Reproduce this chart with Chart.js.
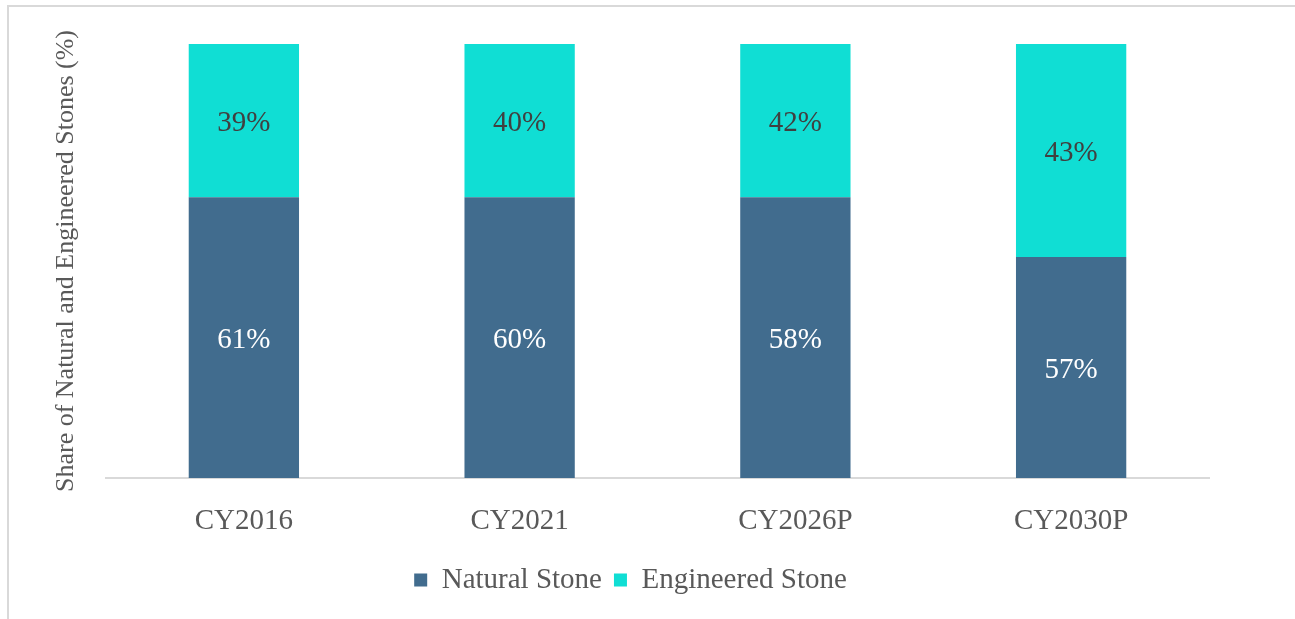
<!DOCTYPE html>
<html>
<head>
<meta charset="utf-8">
<script src="https://cdn.jsdelivr.net/npm/chart.js@4.4.1/dist/chart.umd.min.js"></script>
<style>
    html, body { margin: 0; padding: 0; background: #fff; overflow: hidden; }
    #frame {
        position: absolute; left: 7px; top: 5px; width: 1400px; height: 700px;
        border-top: 2px solid #d9d9d9; border-left: 2px solid #d9d9d9;
    }
    #wrap { position: absolute; left: 0; top: 0; width: 1295px; height: 619px; }
</style>
</head>
<body>
<div id="frame"></div>
<div id="wrap"><canvas id="shareChart" width="1295" height="619"></canvas></div>
<script>
// Data (bar heights as drawn in the picture, labels as printed on the bars)
const years = ['CY2016', 'CY2021', 'CY2026P', 'CY2030P'];
const naturalShare = [64.7, 64.7, 64.7, 50.9];
const engineeredShare = [35.3, 35.3, 35.3, 49.1];
const naturalLabels = ['61%', '60%', '58%', '57%'];
const engineeredLabels = ['39%', '40%', '42%', '43%'];

const serif = '"Liberation Serif", "Times New Roman", serif';

// Writes the percentage labels in the middle of every bar segment
const barLabels = {
    id: 'barLabels',
    afterDatasetsDraw(chart) {
        const ctx = chart.ctx;
        const texts = [naturalLabels, engineeredLabels];
        const colors = ['#ffffff', '#404040'];
        ctx.save();
        ctx.font = '29px ' + serif;
        ctx.textAlign = 'center';
        ctx.textBaseline = 'middle';
        chart.data.datasets.forEach((ds, i) => {
            const meta = chart.getDatasetMeta(i);
            ctx.fillStyle = colors[i];
            meta.data.forEach((bar, j) => {
                ctx.fillText(texts[i][j], bar.x, (bar.y + bar.base) / 2 + 3);
            });
        });
        ctx.restore();
    }
};

const ctx = document.getElementById('shareChart').getContext('2d');
new Chart(ctx, {
    type: 'bar',
    data: {
        labels: years,
        datasets: [
            {
                label: 'Natural Stone',
                data: naturalShare,
                backgroundColor: '#416C8E',
                barPercentage: 0.4,
                categoryPercentage: 1
            },
            {
                label: 'Engineered Stone',
                data: engineeredShare,
                backgroundColor: '#10DED4',
                barPercentage: 0.4,
                categoryPercentage: 1
            }
        ]
    },
    options: {
        responsive: false,
        animation: false,
        layout: {
            padding: { left: 52, right: 86, top: 44, bottom: 14.5 }
        },
        scales: {
            x: {
                stacked: true,
                grid: { display: false, drawTicks: false },
                border: { display: true, color: '#d9d9d9', width: 2 },
                ticks: {
                    color: '#595959',
                    padding: 26,
                    font: { family: serif, size: 29 }
                },
                afterFit: function(scale) {
                    scale.height = 75.5;
                }
            },
            y: {
                stacked: true,
                min: 0,
                max: 100,
                grid: { display: false, drawTicks: false },
                border: { display: false },
                ticks: { display: false },
                title: {
                    display: true,
                    text: 'Share of Natural and Engineered Stones (%)',
                    color: '#595959',
                    padding: { top: 1, bottom: 0 },
                    font: { family: serif, size: 26, lineHeight: 1 }
                },
                afterFit: function(scale) {
                    scale.width = 54;
                }
            }
        },
        plugins: {
            legend: {
                position: 'bottom',
                labels: {
                    boxWidth: 13,
                    boxHeight: 13,
                    padding: 12,
                    color: '#595959',
                    font: { family: serif, size: 29 }
                }
            },
            tooltip: { enabled: false }
        }
    },
    plugins: [barLabels]
});
</script>
</body>
</html>
